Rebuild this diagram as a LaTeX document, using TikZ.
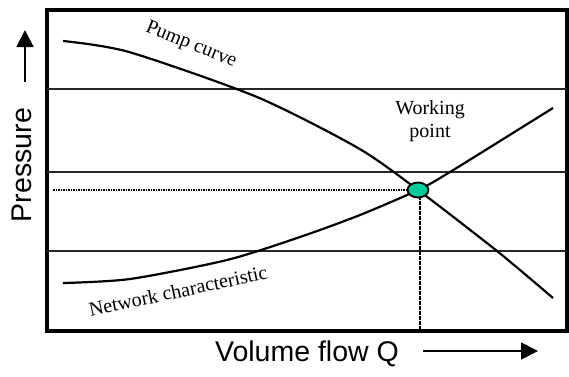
\documentclass[tikz,border=0pt]{standalone}
\usepackage{fontspec}
\setmainfont{Liberation Serif}
\setsansfont{Liberation Sans}
\usetikzlibrary{arrows.meta,shapes.geometric}
\definecolor{wpgreen}{RGB}{0,204,153}
\tikzset{
  frame/.style={line width=3.2pt},
  gridline/.style={line width=2pt, black!85},
  curveline/.style={line width=2.2pt, line join=round},
  guide/.style={line width=2.4pt, dash pattern=on 1.6pt off 0.9pt},
  serlabel/.style={font=\fontsize{20}{23}\selectfont, inner sep=0pt},
  axlabel/.style={font=\sffamily\fontsize{28.5}{31}\selectfont, inner sep=0pt},
  axarrow/.style={line width=1.8pt, -{Triangle[length=17pt,width=17pt]}},
  wpstyle/.style={ellipse, draw, line width=1.8pt, fill=wpgreen, minimum width=21pt, minimum height=15pt, inner sep=0pt}
}
\begin{document}
\begin{tikzpicture}[x=1pt,y=-1pt]
\useasboundingbox (0,0) rectangle (569,376);
% frame and grid
\draw[frame] (47,10) rectangle (567,331);
\draw[gridline] (47,89) -- (567,89);
\draw[gridline] (47,172) -- (567,172);
\draw[gridline] (47,251) -- (567,251);
% curves
\draw[curveline] plot[smooth, tension=0.45] coordinates {(63,41) (129,52) (257,97) (358,148) (418,190) (497,251) (553,298)};
\draw[curveline] plot[smooth, tension=0.45] coordinates {(63,283) (130,279) (227,260) (300,237) (360,215) (418,190) (450,172) (553,108)};
% working point
\node[wpstyle] (wp) at (418,190) {};
\coordinate (hl) at (53,190);
\coordinate (vb) at (420,331);
\draw[guide] (hl) -- (wp.west);
\draw[guide] (wp.south -| vb) -- (vb);
% labels
\node[serlabel, rotate=-22] (pump) at (191,45) {Pump curve};
\node[serlabel, rotate=12] (net) at (178,291) {Network characteristic};
\node[serlabel, align=center] (wplabel) at (430,121) {Working\\point};
\node[axlabel, rotate=90] (press) at (22,165) {Pressure};
\node[axlabel, anchor=base] (vol) at (307,361) {Volume flow Q};
% axis arrows
\coordinate (pa0) at (25,82);
\coordinate (pa1) at (25,30);
\coordinate (va0) at (423,351);
\coordinate (va1) at (538,351);
\draw[axarrow] (pa0) -- (pa1);
\draw[axarrow] (va0) -- (va1);
\end{tikzpicture}
\end{document}
